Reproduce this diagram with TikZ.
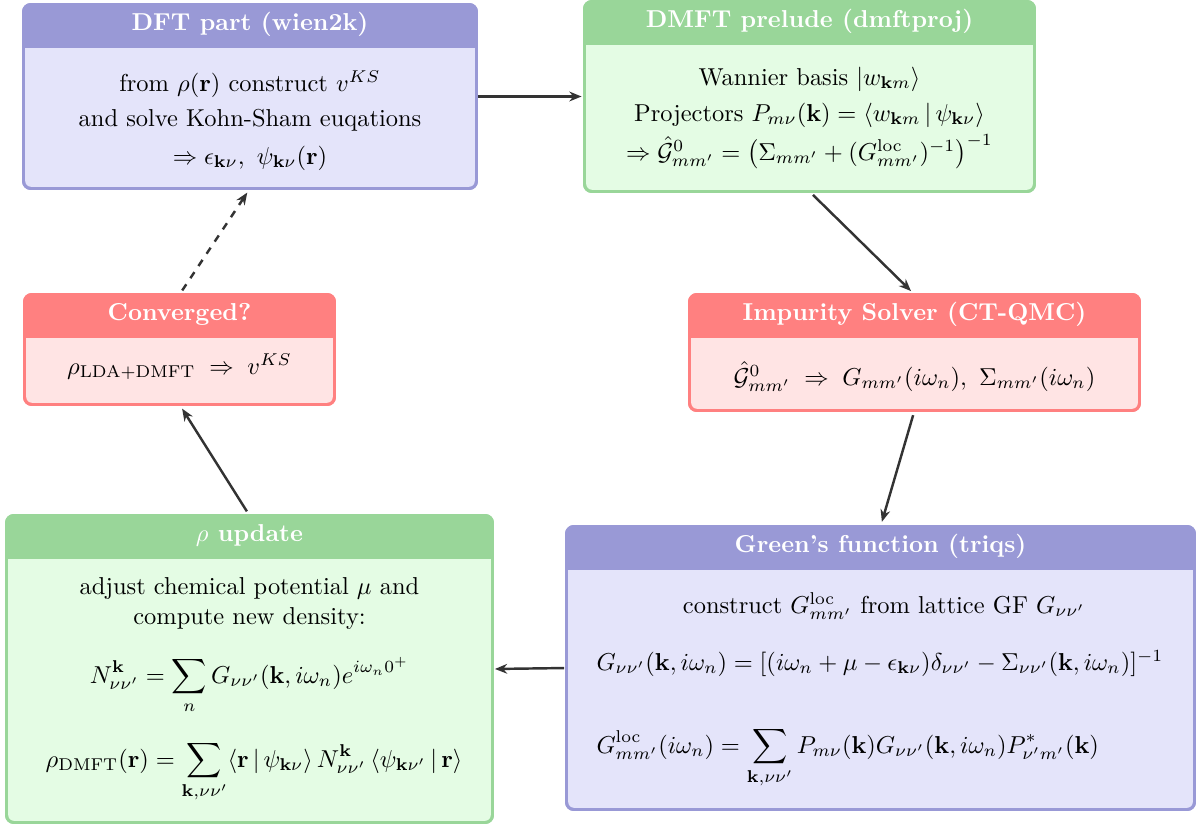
\documentclass[tikz,border=0pt]{standalone}
\usepackage{amsmath,amssymb}
\usetikzlibrary{arrows.meta,calc}

\definecolor{blueH}{RGB}{153,153,214}
\definecolor{blueB}{RGB}{228,228,250}
\definecolor{greenH}{RGB}{153,214,153}
\definecolor{greenB}{RGB}{228,252,228}
\definecolor{redH}{RGB}{255,128,128}
\definecolor{redB}{RGB}{255,228,228}
\definecolor{arrowgray}{RGB}{51,51,51}

% one drawing unit
\newcommand\pxu{0.409pt}

\tikzset{
  stagebox/.style={rectangle, rounded corners=3pt, line width=1.2pt, inner sep=0pt, outer sep=0pt},
  stagetitle/.style={anchor=base, text=white, font=\bfseries, inner sep=0pt},
  bodyline/.style={anchor=base, inner sep=0pt},
  bodyleft/.style={anchor=base west, inner sep=0pt},
  flow/.style={draw=arrowgray, line width=1pt, -{Stealth[length=5pt,width=4pt]},
               shorten >=2pt, shorten <=2pt},
}

% #1 name, #2 cx, #3 cy, #4 width, #5 height, #6 frame colour, #7 body colour, #8 title
\newcommand\flowbox[8]{%
  \node[stagebox, draw=#6, fill=#7, minimum width={#4*\pxu}, minimum height={#5*\pxu}] (#1) at (#2,#3) {};
  \fill[#6, rounded corners=3pt] (#1.north west) rectangle ([yshift={-43*\pxu}]#1.north east);
  \fill[#6] ([yshift={-20*\pxu}]#1.north west) rectangle ([yshift={-43*\pxu}]#1.north east);
  \draw[#6, line width=1.2pt, rounded corners=3pt] (#1.north west) rectangle (#1.south east);
  \node[stagetitle] (#1-t) at ([yshift={-26*\pxu}]#1.north) {#8};
}

\begin{document}
\begin{tikzpicture}[x=0.409pt, y=-0.409pt]
\useasboundingbox (0,0) rectangle (1196,826);

% ---- stages ----
\flowbox{dft}{250}{96.5}{453}{184}{blueH}{blueB}{DFT part (wien2k)}
\node[bodyline] (dft-1) at (250,91)  {from $\rho(\mathbf{r})$ construct $v^{KS}$};
\node[bodyline] (dft-2) at (250,126) {and solve Kohn-Sham euqations};
\node[bodyline] (dft-3) at (250,164) {$\Rightarrow \epsilon_{\mathbf{k}\nu},\ \psi_{\mathbf{k}\nu}(\mathbf{r})$};

\flowbox{dmft}{809.5}{96.5}{450}{190}{greenH}{greenB}{DMFT prelude (dmftproj)}
\node[bodyline] (dmft-1) at (809.5,85)  {Wannier basis $|w_{\mathbf{k}m}\rangle$};
\node[bodyline] (dmft-2) at (809.5,121) {Projectors $P_{m\nu}(\mathbf{k}) = \langle w_{\mathbf{k}m}\,|\,\psi_{\mathbf{k}\nu}\rangle$};
\node[bodyline] (dmft-3) at (809.5,160) {$\Rightarrow \hat{\mathcal{G}}^0_{mm'} = \bigl(\Sigma_{mm'} + (G^{\text{loc}}_{mm'})^{-1}\bigr)^{-1}$};

\flowbox{conv}{179.5}{349.5}{310}{110}{redH}{redB}{Converged?}
\node[bodyline] (conv-1) at (179.5,374) {$\rho_{\text{LDA+DMFT}} \;\Rightarrow\; v^{KS}$};

\flowbox{imp}{914.5}{352.5}{450}{116}{redH}{redB}{Impurity Solver (CT-QMC)}
\node[bodyline] (imp-1) at (914.5,385) {$\hat{\mathcal{G}}^0_{mm'} \;\Rightarrow\; G_{mm'}(i\omega_n),\ \Sigma_{mm'}(i\omega_n)$};

\flowbox{rho}{249.5}{669}{486}{307}{greenH}{greenB}{$\rho$ update}
\node[bodyline] (rho-1) at (249.5,594) {adjust chemical potential $\mu$ and};
\node[bodyline] (rho-2) at (249.5,624) {compute new density:};
\node[bodyline] (rho-3) at (249.5,683) {$\displaystyle N^{\mathbf{k}}_{\nu\nu'} = \sum_n G_{\nu\nu'}(\mathbf{k},i\omega_n)e^{i\omega_n 0^+}$};
\node[bodyline] (rho-4) at (254,767) {$\displaystyle \rho_{\text{DMFT}}(\mathbf{r}) = \sum_{\mathbf{k},\nu\nu'} \langle \mathbf{r}\,|\,\psi_{\mathbf{k}\nu}\rangle\, N^{\mathbf{k}}_{\nu\nu'}\, \langle \psi_{\mathbf{k}\nu'}\,|\,\mathbf{r}\rangle$};

\flowbox{green}{880.5}{668}{628}{283}{blueH}{blueB}{Green's function (triqs)}
\node[bodyline] (green-1) at (884,613) {construct $G^{\text{loc}}_{mm'}$ from lattice GF $G_{\nu\nu'}$};
\node[bodyleft] (green-2) at (596,670) {$G_{\nu\nu'}(\mathbf{k},i\omega_n) = [(i\omega_n+\mu-\epsilon_{\mathbf{k}\nu})\delta_{\nu\nu'} - \Sigma_{\nu\nu'}(\mathbf{k},i\omega_n)]^{-1}$};
\node[bodyleft] (green-3) at (596,753) {$\displaystyle G^{\text{loc}}_{mm'}(i\omega_n) = \sum_{\mathbf{k},\nu\nu'} P_{m\nu}(\mathbf{k}) G_{\nu\nu'}(\mathbf{k},i\omega_n) P^*_{\nu'm'}(\mathbf{k})$};

% ---- cycle ----
\draw[flow, shorten <=0.8pt, shorten >=1.2pt] (dft.east) -- (dmft.west);
\draw[flow] (dmft.south) -- (imp.north);
\draw[flow] (imp.south) -- (green.north);
\draw[flow, shorten <=1pt, shorten >=1pt] (green.west) -- (rho.east);
\draw[flow] (rho.north) -- (conv.south);
\draw[flow, dashed] (conv.north) -- (dft.south);
\end{tikzpicture}
\end{document}
